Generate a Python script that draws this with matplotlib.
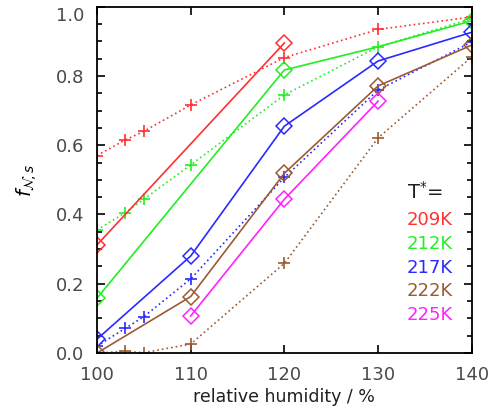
import matplotlib
matplotlib.use("Agg")
import matplotlib.pyplot as plt
from matplotlib.ticker import MultipleLocator

plt.rcParams["font.family"] = ["DejaVu Sans"]

# relative humidity (%) for the two kinds of runs
rh_plus = [100, 103, 105, 110, 120, 130, 140]

# dotted "+" series
f209_plus = [0.57, 0.615, 0.64, 0.716, 0.853, 0.934, 0.97]
f212_plus = [0.355, 0.405, 0.444, 0.543, 0.745, 0.884, 0.965]
f217_plus = [0.02, 0.071, 0.105, 0.214, 0.507, 0.759, 0.898]
f222_plus = [0.0, 0.005, 0.001, 0.026, 0.259, 0.621, 0.855]

# solid diamond series
rh_209 = [100, 120]
f209_dia = [0.312, 0.895]
rh_212 = [100, 120, 130, 140]
f212_dia = [0.158, 0.817, 0.884, 0.959]
rh_217 = [100, 110, 120, 130, 140]
f217_dia = [0.04, 0.28, 0.655, 0.843, 0.926]
rh_222 = [100, 110, 120, 130, 140]
f222_dia = [0.0, 0.163, 0.519, 0.771, 0.889]
rh_225 = [110, 120, 130]
f225_dia = [0.107, 0.444, 0.727]

temps = ["209K", "212K", "217K", "222K", "225K"]
colors = ["#ff3030", "#22ee22", "#2a2aff", "#9c5a32", "#ff22ff"]

fig = plt.figure(figsize=(4.92, 4.12), dpi=100)
ax = fig.add_axes([0.197, 0.143, 0.762, 0.841])

dot = (0, (1, 1.8))
plus_kw = dict(marker="+", ms=8, mew=1.2, lw=1.2, ls=dot)
dia_kw = dict(marker="D", ms=8, mfc="none", mew=1.1, lw=1.2, ls="-")

ax.plot(rh_plus, f209_plus, color=colors[0], **plus_kw)
ax.plot(rh_plus, f212_plus, color=colors[1], **plus_kw)
ax.plot(rh_plus, f217_plus, color=colors[2], **plus_kw)
ax.plot(rh_plus, f222_plus, color=colors[3], **plus_kw)

ax.plot(rh_209, f209_dia, color=colors[0], **dia_kw)
ax.plot(rh_212, f212_dia, color=colors[1], markevery=[0, 1, 3], **dia_kw)
ax.plot(rh_217, f217_dia, color=colors[2], **dia_kw)
ax.plot(rh_222, f222_dia, color=colors[3], **dia_kw)
ax.plot(rh_225, f225_dia, color=colors[4], **dia_kw)

ax.set_xlim(100, 140)
ax.set_ylim(0, 1.0)
ax.xaxis.set_major_locator(MultipleLocator(10))
ax.yaxis.set_major_locator(MultipleLocator(0.2))
ax.yaxis.set_minor_locator(MultipleLocator(0.05))
ax.yaxis.set_major_formatter(plt.FuncFormatter(lambda v, p: f"{v:.1f}"))
ax.tick_params(which="both", direction="in", top=True, right=True,
               labelsize=13, labelcolor="#4a4a4a", width=1.2)
ax.tick_params(which="major", length=6, pad=9)
ax.tick_params(which="minor", length=3.5)
for s in ax.spines.values():
    s.set_linewidth(1.3)

ax.set_xlabel("relative humidity / %", fontsize=12.5, color="#202020", labelpad=3)
ax.set_ylabel(r"$f_{\mathcal{N}\!,s}$", fontsize=14, labelpad=12)

ax.text(0.826, 0.465, "T$^{*}$=", transform=ax.transAxes, fontsize=14,
        color="#202020", va="center")
for i, (t, c) in enumerate(zip(temps, colors)):
    ax.text(0.826, 0.385 - i * 0.069, t, transform=ax.transAxes,
            fontsize=13, color=c, va="center")

# top label sits just below the frame, as in the original
fig.canvas.draw()
for tick in ax.yaxis.get_major_ticks():
    if abs(tick.get_loc() - 1.0) < 1e-9:
        tick.label1.set_verticalalignment("top")
        tick.label1.set_y(tick.label1.get_position()[1])

fig.savefig("out.png", dpi=100)
